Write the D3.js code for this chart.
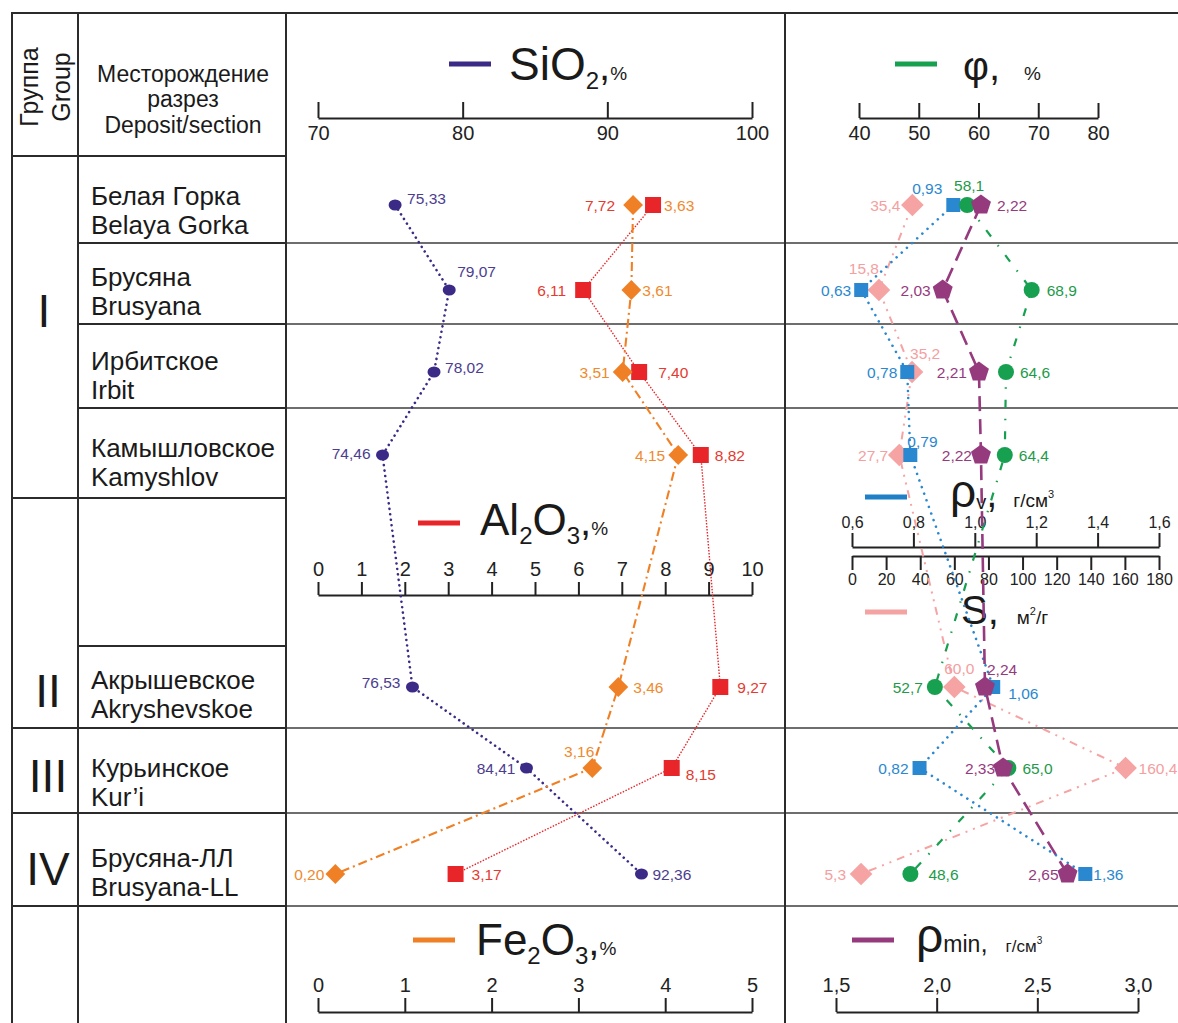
<!DOCTYPE html>
<html><head><meta charset="utf-8">
<script src="https://cdn.jsdelivr.net/npm/d3@7"></script>
<style>
body{margin:0;background:#fff;}
svg{display:block;font-family:"Liberation Sans",Arial,sans-serif;}
</style></head><body>
<svg id="chart" width="1178" height="1023"></svg>
<script>
// ---- data ----
const depositsRu = ["Белая Горка","Брусяна","Ирбитское","Камышловское","Акрышевское","Курьинское","Брусяна-ЛЛ"];
const depositsEn = ["Belaya Gorka","Brusyana","Irbit","Kamyshlov","Akryshevskoe","Kur’i","Brusyana-LL"];
const groupNames = ["I","II","III","IV"];
const sio2   = [75.33, 79.07, 78.02, 74.46, 76.53, 84.41, 92.36];
const al2o3  = [7.72, 6.11, 7.40, 8.82, 9.27, 8.15, 3.17];
const fe2o3  = [3.63, 3.61, 3.51, 4.15, 3.46, 3.16, 0.20];
const phi    = [58.1, 68.9, 64.6, 64.4, 52.7, 65.0, 48.6];
const rhoV   = [0.93, 0.63, 0.78, 0.79, 1.06, 0.82, 1.36];
const sArea  = [35.4, 15.8, 35.2, 27.7, 60.0, 160.4, 5.3];
const rhoMin = [2.22, 2.03, 2.21, 2.22, 2.24, 2.33, 2.65];

const sio2Ticks   = [70, 80, 90, 100];
const al2o3Ticks  = [0,1,2,3,4,5,6,7,8,9,10];
const fe2o3Ticks  = [0,1,2,3,4,5];
const phiTicks    = [40, 50, 60, 70, 80];
const rhoVTicks   = [0.6, 0.8, 1.0, 1.2, 1.4, 1.6];
const sTicks      = [0,20,40,60,80,100,120,140,160,180];
const rhoMinTicks = [1.5, 2.0, 2.5, 3.0];

// value-label placement per point: [dx, dy, anchor]
const sio2Lab   = [[12,-6,"start"],[8,-18,"start"],[11,-4,"start"],[-12,-1,"end"],[-12,-4,"end"],[-11,1,"end"],[11,1,"start"]];
const al2o3Lab  = [[-38,1,"end"],[-17,1,"end"],[19,1,"start"],[14,1,"start"],[17,1,"start"],[14,7,"start"],[16,1,"start"]];
const fe2o3Lab  = [[31,1,"start"],[11,1,"start"],[-13,1,"end"],[-13,1,"end"],[15,1,"start"],[2,-16,"end"],[-11,1,"end"]];
const phiLab    = [[2,-19,"middle"],[15,1,"start"],[14,1,"start"],[14,1,"start"],[-12,1,"end"],[14,1,"start"],[18,1,"start"]];
const rhoVLab   = [[-11,-16,"end"],[-10,1,"end"],[-10,1,"end"],[-3,-13,"start"],[15,7,"start"],[-11,1,"end"],[8,1,"start"]];
const sLab      = [[-12,1,"end"],[0,-21,"end"],[-2,-18,"start"],[-11,1,"end"],[5,-18,"middle"],[13,1,"start"],[-15,1,"end"]];
const rhoMinLab = [[16,1,"start"],[-12,1,"end"],[-12,1,"end"],[-9,1,"end"],[2,-17,"start"],[-8,1,"end"],[-9,1,"end"]];

// ---- layout ----
const svg = d3.select("#chart");
const W = 1178;
const colX = {left: 12, grp: 78, dep: 286, mid: 785, right: W};
const rowY = d3.scaleOrdinal().domain(depositsRu).range([205, 290, 372, 455, 687, 768, 874]);

const loc = d3.formatLocale({decimal: ",", thousands: " ", grouping: [3], currency: ["", ""]});
const f1 = loc.format(".1f"), f2 = loc.format(".2f"), fd = loc.format("d");

const xSi  = d3.scaleLinear().domain([70, 100]).range([318, 752]);
const xAl  = d3.scaleLinear().domain([0, 10]).range([318, 752]);
const xFe  = d3.scaleLinear().domain([0, 5]).range([318, 752]);
const xPhi = d3.scaleLinear().domain([40, 80]).range([859, 1098]);
const xRv  = d3.scaleLinear().domain([0.6, 1.6]).range([852, 1159]);
const xS   = d3.scaleLinear().domain([0, 180]).range([852, 1159]);
const xRm  = d3.scaleLinear().domain([1.5, 3.0]).range([836, 1138]);

// ---- table grid ----
const grid = svg.append("g");
function hline(x1, x2, y, dark) {
  grid.append("line").attr("x1", x1).attr("x2", x2).attr("y1", y).attr("y2", y)
    .attr("stroke", dark ? "#2b2b2b" : "#6e6e6e").attr("stroke-width", dark ? 2 : 1.8);
}
// plot-area row separators
[243, 324, 408, 728, 813, 906].forEach(y => hline(colX.dep, W, y, false));
// left table
hline(colX.left, W, 13, true);
hline(colX.left, colX.dep, 156, true);
[243, 324, 408, 646].forEach(y => hline(colX.grp, colX.dep, y, true));
[498, 728, 813, 906].forEach(y => hline(colX.left, colX.dep, y, true));
[colX.left, colX.grp, colX.dep, colX.mid].forEach(x =>
  grid.append("line").attr("x1", x).attr("x2", x).attr("y1", 12).attr("y2", 1023)
    .attr("stroke", "#2b2b2b").attr("stroke-width", 2));

// header texts
const head = svg.append("g").attr("fill", "#1a1a1a");
head.append("text").attr("transform", "translate(38,87) rotate(-90)").attr("text-anchor", "middle")
  .attr("font-size", 25).text("Группа");
head.append("text").attr("transform", "translate(70,87) rotate(-90)").attr("text-anchor", "middle")
  .attr("font-size", 25).text("Group");
[["Месторождение", 82], ["разрез", 107], ["Deposit/section", 133]].forEach(([t, y]) =>
  head.append("text").attr("x", 183).attr("y", y).attr("text-anchor", "middle").attr("font-size", 23).text(t));

// deposit names
const depG = svg.append("g").attr("fill", "#1a1a1a").attr("font-size", 26);
const depBase = [205, 286, 370, 457, 689, 777, 867];
depositsRu.forEach((d, i) => {
  depG.append("text").attr("x", 91).attr("y", depBase[i]).text(d);
  depG.append("text").attr("x", 91).attr("y", depBase[i] + 29).text(depositsEn[i]);
});
// group numerals
const grpPos = [[44, 327], [48, 707], [48, 792], [48, 885]];
groupNames.forEach((g, i) =>
  svg.append("text").attr("x", grpPos[i][0]).attr("y", grpPos[i][1]).attr("text-anchor", "middle")
    .attr("font-size", 46).attr("fill", "#1a1a1a").text(g));

// ---- axes ----
function styleAxis(g, size) {
  g.select(".domain").attr("stroke", "#222").attr("stroke-width", 2);
  g.selectAll(".tick line").attr("stroke", "#222").attr("stroke-width", 2);
  g.selectAll(".tick text").attr("fill", "#222").attr("font-size", size)
    .attr("font-family", "'Liberation Sans', Arial, sans-serif");
}
function axis(gen, scale, ticks, fmt, y, inner, pad, size) {
  const a = gen(scale).tickValues(ticks).tickFormat(fmt).tickSizeInner(inner).tickSizeOuter(0).tickPadding(pad);
  const g = svg.append("g").attr("transform", `translate(0,${y})`).call(a);
  styleAxis(g, size);
}
axis(d3.axisBottom, xSi, sio2Ticks, fd, 118, -16, 8, 20);
axis(d3.axisBottom, xPhi, phiTicks, fd, 118, -15, 8, 20);
axis(d3.axisTop, xAl, al2o3Ticks, fd, 595, 13, 6, 20);
axis(d3.axisTop, xRv, rhoVTicks, f1, 547, 14, 5, 16);
axis(d3.axisBottom, xS, sTicks, fd, 556, 14, 4, 16);
axis(d3.axisTop, xFe, fe2o3Ticks, fd, 1012, 14, 6, 20);
axis(d3.axisTop, xRm, rhoMinTicks, f1, 1012, 14, 6, 20);

// ---- legends ----
function legend(bx, by, color, tx, ty, parts) {
  svg.append("line").attr("x1", bx).attr("x2", bx + 42).attr("y1", by).attr("y2", by)
    .attr("stroke", color).attr("stroke-width", 5);
  const t = svg.append("text").attr("x", tx).attr("y", ty).attr("fill", "#1a1a1a");
  parts.forEach(p => {
    const s = t.append("tspan").attr("font-size", p[1]).text(p[0]);
    if (p[2]) s.attr("dy", p[2]);
    if (p[3]) s.attr("dx", p[3]);
  });
}
legend(449, 64, "#3b2a86", 509, 80, [["SiO", 46], ["2", 24, 9], [",", 40, -9], ["%", 19]]);
legend(895, 64, "#17a050", 963, 80, [["φ,", 40], ["%", 19, 0, 24]]);
legend(418, 523, "#e8262a", 480, 535, [["Al", 44], ["2", 24, 9], ["O", 44, -9], ["3", 24, 9], [",", 40, -9], ["%", 19]]);
legend(865, 497, "#1f80c8", 950, 507, [["ρ", 46], ["v", 20, 2], [",", 40, -2], ["г/см", 19, 0, 16], ["3", 11, -9]]);
legend(865, 612, "#f4a3a3", 961, 624, [["S,", 40], ["м", 19, 0, 18], ["2", 11, -9], ["/г", 19, 9]]);
legend(413, 940, "#f08025", 476, 955, [["Fe", 44], ["2", 24, 9], ["O", 44, -9], ["3", 24, 9], [",", 40, -9], ["%", 19]]);
legend(852, 940, "#963a7e", 916, 952, [["ρ", 48], ["min", 23], [",", 26], ["г/см", 17, 0, 18], ["3", 10, -8]]);

// ---- series ----
const pentagon = r => {
  const pts = d3.range(5).map(k => {
    const a = -Math.PI / 2 + k * 2 * Math.PI / 5;
    return [r * Math.cos(a), r * Math.sin(a)];
  });
  return "M" + pts.map(p => p.join(",")).join("L") + "Z";
};
const markers = {
  dot:      g => g.append("ellipse").attr("rx", 6.5).attr("ry", 5.5),
  square:   g => g.append("rect").attr("x", -8).attr("y", -8).attr("width", 16).attr("height", 16),
  squareS:  g => g.append("rect").attr("x", -7).attr("y", -7).attr("width", 14).attr("height", 14),
  diamond:  g => g.append("rect").attr("x", -7).attr("y", -7).attr("width", 14).attr("height", 14).attr("transform", "rotate(45)"),
  diamondL: g => g.append("rect").attr("x", -8).attr("y", -8).attr("width", 16).attr("height", 16).attr("transform", "rotate(45)"),
  circle:   g => g.append("circle").attr("r", 8),
  pentagon: g => g.append("path").attr("d", pentagon(10.5))
};

const series = [
  {vals: sArea,  x: xS,   color: "#f6a3a3", lab: "#f4a0a0", dash: "8 6 2 6 2 6", w: 2,   cap: "butt",  m: "diamondL", fmt: f1, pos: sLab},
  {vals: rhoV,   x: xRv,  color: "#2a88d0", lab: "#2a88d0", dash: "0.01 7",      w: 2.6, cap: "round", m: "squareS",  fmt: f2, pos: rhoVLab},
  {vals: phi,    x: xPhi, color: "#17a050", lab: "#1e9a4a", dash: "8 11 1.5 11", w: 2.2, cap: "butt",  m: "circle",   fmt: f1, pos: phiLab},
  {vals: rhoMin, x: xRm,  color: "#963a7e", lab: "#963a7e", dash: "15 8",        w: 2.6, cap: "butt",  m: "pentagon", fmt: f2, pos: rhoMinLab},
  {vals: sio2,   x: xSi,  color: "#3b2a86", lab: "#4b3d8f", dash: "0.01 5.5",    w: 2.6, cap: "round", m: "dot",      fmt: f2, pos: sio2Lab},
  {vals: al2o3,  x: xAl,  color: "#e8262a", lab: "#e53a2f", dash: "1.5 1.5",     w: 1.4, cap: "butt",  m: "square",   fmt: f2, pos: al2o3Lab},
  {vals: fe2o3,  x: xFe,  color: "#f08025", lab: "#ef8a2e", dash: "9 4 2 4",     w: 2.1, cap: "butt",  m: "diamond",  fmt: f2, pos: fe2o3Lab}
];

const lineGen = d3.line().x(d => d[0]).y(d => d[1]);
const lineLayer = svg.append("g"), markLayer = svg.append("g"), labLayer = svg.append("g");

series.forEach(s => {
  const pts = s.vals.map((v, i) => [s.x(v), rowY(depositsRu[i])]);
  lineLayer.append("path").attr("d", lineGen(pts)).attr("fill", "none")
    .attr("stroke", s.color).attr("stroke-width", s.w).attr("stroke-dasharray", s.dash)
    .attr("stroke-linecap", s.cap);
});
series.forEach(s => {
  s.vals.forEach((v, i) => {
    const g = markLayer.append("g").attr("transform", `translate(${s.x(v)},${rowY(depositsRu[i])})`).attr("fill", s.color);
    markers[s.m](g);
    const p = s.pos[i];
    labLayer.append("text").attr("x", s.x(v) + p[0]).attr("y", rowY(depositsRu[i]) + p[1])
      .attr("dy", "0.35em").attr("text-anchor", p[2]).attr("font-size", 15.5)
      .attr("fill", s.lab).text(s.fmt(v));
  });
});
</script>
</body></html>
